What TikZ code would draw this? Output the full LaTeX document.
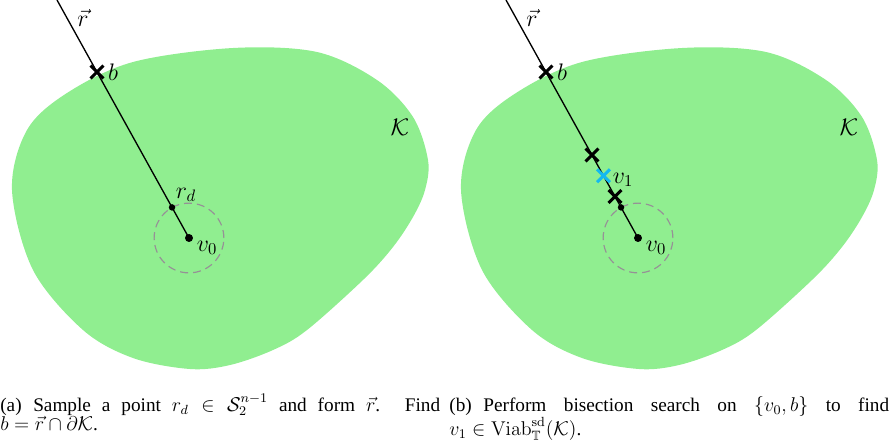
\documentclass[tikz,border=0pt]{standalone}
\usepackage[no-math]{fontspec}
\setmainfont{Liberation Serif}
\usepackage{amssymb}
\usetikzlibrary{shapes.misc,calc}
\definecolor{kgreen}{RGB}{144,238,144}
\definecolor{vcyan}{RGB}{20,185,240}
\definecolor{cgray}{RGB}{150,145,150}
\thickmuskip=5mu plus 2.5mu
\medmuskip=4mu plus 1.5mu minus 4mu
\begin{document}
\begin{tikzpicture}[x=0.6024pt,y=-0.6024pt,
  blob/.style={fill=kgreen,draw=none},
  ray/.style={line width=0.8pt},
  xmark/.style={draw, cross out, line width=1.8pt, minimum size=6pt, inner sep=0pt},
  vdot/.style={circle, fill, inner sep=0pt, minimum size=4.8pt},
  rdot/.style={circle, fill, inner sep=0pt, minimum size=3.9pt},
  ball/.style={draw=cgray, line width=0.7pt, dash pattern=on 4.8pt off 3pt},
  lbl/.style={font=\Large, inner sep=0pt},
  captext/.style={text width=265pt, align=justify, inner sep=0pt, anchor=base west, font=\fontsize{11.6}{12}\selectfont}
]
\useasboundingbox (0,0) rectangle (890,446);

\newcommand{\kblob}{\fill[blob] plot[smooth cycle, tension=0.55] coordinates {
  (233,48) (317,52) (377,80) (413,117) (428,160) (425,190) (413,217) (393,247)
  (364,279) (307,330) (273,350) (230,365) (190,369) (133,358) (83,330)
  (33,270) (12,190) (27,130) (67,93) (133,62)};}

% ---------- panel (a)
\begin{scope}
  \kblob
  \coordinate (topA) at (57,0);
  \coordinate (bA) at (97,72);
  \coordinate (v0A) at (189,238);
  \coordinate (rdA) at ($(v0A)!35/189.8!(bA)$);
  \draw[ball] (v0A) circle (21pt);
  \draw[ray] (topA) -- (v0A);
  \node[vdot] (v0dA) at (v0A) {};
  \node[rdot] (rddA) at (rdA) {};
  \node[xmark] (bxA) at (bA) {};
  \node[lbl] (rlA) at (83,18) {$\vec{r}$};
  \node[lbl] (blA) at (113,72) {$b$};
  \node[lbl] (KlA) at (400,127) {$\mathcal{K}$};
  \node[lbl] (rdlA) at (186,195) {$r_d$};
  \node[lbl] (v0lA) at (207,248) {$v_0$};
\end{scope}

% ---------- panel (b)
\begin{scope}[shift={(449,0)}]
  \kblob
  \coordinate (topB) at (57,0);
  \coordinate (bB) at (97,72);
  \coordinate (v0B) at (189,238);
  \coordinate (rdB) at ($(v0B)!35/189.8!(bB)$);
  \draw[ball] (v0B) circle (21pt);
  \draw[ray] (topB) -- (v0B);
  \node[vdot] (v0dB) at (v0B) {};
  \node[rdot] (rddB) at (rdB) {};
  \node[xmark] (bxB) at (bB) {};
  \node[xmark] (m1B) at ($(v0B)!0.5!(bB)$) {};
  \node[xmark] (m2B) at ($(v0B)!0.25!(bB)$) {};
  \node[xmark, draw=vcyan] (v1B) at ($(v0B)!0.375!(bB)$) {};
  \node[lbl] (rlB) at (83,18) {$\vec{r}$};
  \node[lbl] (blB) at (113,72) {$b$};
  \node[lbl] (KlB) at (400,127) {$\mathcal{K}$};
  \node[lbl] (v1lB) at (174,180) {$v_1$};
  \node[lbl] (v0lB) at (207,248) {$v_0$};
\end{scope}

% ---------- captions
\node[captext] (capA) at (0,411) {(a)\hspace{0.6em}Sample a point $r_d \in \mathcal{S}_2^{n-1}$ and form $\vec{r}$. Find\linebreak $b = \vec{r} \cap \partial\mathcal{K}$.};
\node[captext] (capB) at (449,411) {(b)\hspace{0.6em}Perform bisection search on $\{v_0, b\}$ to find\linebreak $v_1 \in \mathrm{Viab}^{\mathrm{sd}}_{\mathbb{T}}(\mathcal{K})$.};
\end{tikzpicture}
\end{document}
